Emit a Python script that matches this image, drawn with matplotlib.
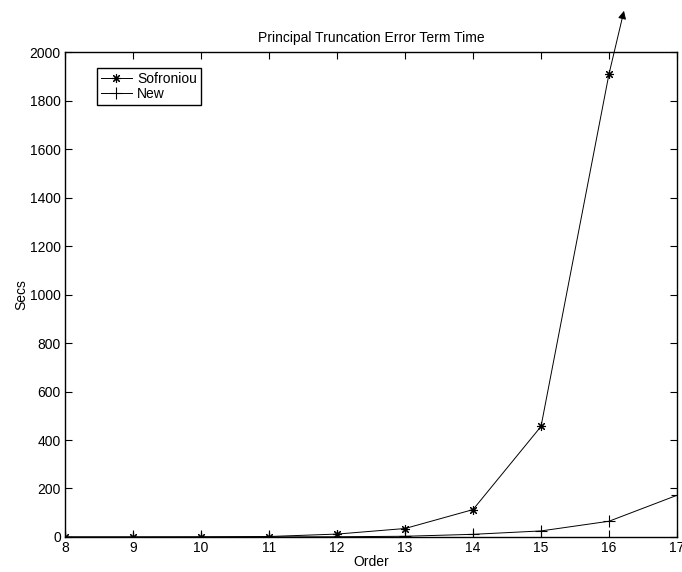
import matplotlib
matplotlib.use('Agg')
import matplotlib.pyplot as plt

plt.rcParams['font.family'] = ['Liberation Sans', 'DejaVu Sans']

# timings
order = [8, 9, 10, 11, 12, 13, 14, 15, 16, 17]
sofroniou = [0, 0, 0.5, 2, 12, 35, 113, 456, 1910]
new = [0, 0, 0, 0.3, 1, 3, 11, 25, 65, 172]
# where the arrow past the top of the axes ends
arrow_tip = (16.22, 2170)

fig = plt.figure(figsize=(6.82, 5.72), dpi=100)
ax = fig.add_axes([0.0953, 0.0612, 0.8974, 0.8478])

ax.plot(order[:len(sofroniou)], sofroniou, color='k', lw=0.7,
        marker=(8, 2, 0), markersize=6.5, markeredgewidth=0.8, label='Sofroniou')
ax.plot(order, new, color='k', lw=0.7,
        marker='+', markersize=8, markeredgewidth=0.8, label='New')

# Sofroniou keeps climbing beyond the plot
ax.annotate('', xy=arrow_tip, xytext=(order[len(sofroniou) - 1], sofroniou[-1]),
            arrowprops=dict(arrowstyle='-|>', color='k', lw=0.7, shrinkA=0, shrinkB=0,
                            mutation_scale=12),
            annotation_clip=False)

ax.set_xlim(8, 17)
ax.set_ylim(0, 2000)
ax.set_xticks(order)
ax.set_yticks(range(0, 2001, 200))
ax.tick_params(direction='in', top=True, right=True, length=5, width=0.8,
               labelsize=10, pad=3)
for s in ax.spines.values():
    s.set_linewidth(1.0)

ax.set_xlabel('Order', fontsize=10, labelpad=0)
ax.set_ylabel('Secs', fontsize=10, labelpad=1)
ax.set_title('Principal Truncation Error Term Time', fontsize=10, pad=7)

leg = ax.legend(loc='upper left', bbox_to_anchor=(0.052, 0.967), fontsize=10,
                fancybox=False, framealpha=1, edgecolor='k', borderpad=0.3,
                handlelength=2.2, handletextpad=0.4, labelspacing=0.05,
                borderaxespad=0)
leg.get_frame().set_linewidth(1.0)

fig.savefig('out.png', dpi=100)
